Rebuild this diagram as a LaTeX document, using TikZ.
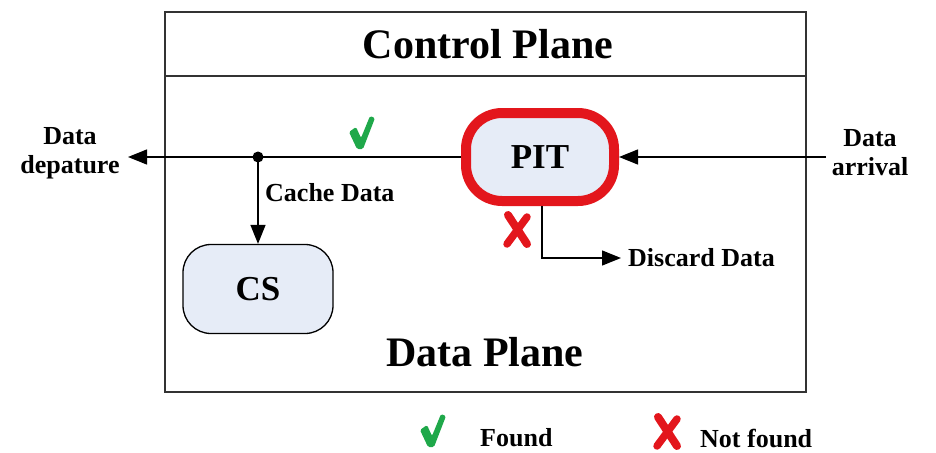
\documentclass[tikz,border=0pt]{standalone}
\usepackage{fontspec}
\setmainfont{Liberation Serif}
\usetikzlibrary{arrows.meta}
\definecolor{pitred}{HTML}{E3161C}
\definecolor{procfill}{HTML}{E6ECF7}
\definecolor{okgreen}{HTML}{1FA84A}
\begin{document}
\begin{tikzpicture}[x=1pt,y=-1pt,
  lbl/.style={font=\fontsize{26}{29}\selectfont\bfseries, inner sep=0pt},
  title/.style={font=\fontsize{42}{46}\selectfont\bfseries, inner sep=0pt},
  frame/.style={draw=black!80, line width=1.5pt},
  conn/.style={line width=1.3pt, -{Triangle[length=19pt,width=15pt]}},
  proc/.style={draw, fill=procfill, font=\fontsize{35}{38}\selectfont\bfseries},
  okmark/.pic={
    \fill[okgreen, rounded corners=1.5pt] (-13,-1) -- (-6,-6) -- (-1,5) -- (8,-17)
      -- (13,-15) -- (1,16) -- (-5,16) -- cycle;
  },
  nomark/.pic={
    \draw[pitred, line width=8pt, line cap=round] (-9,-15) -- (10,14);
    \draw[pitred, line width=7.5pt, line cap=round] (10,-13) -- (-10,14);
  }
]
\useasboundingbox (0,0) rectangle (936,452);

% planes
\draw[frame] (165,12) rectangle (806,392);
\draw[frame] (165,76) -- (806,76);
\node[title] (cp) at (488,44) {Control Plane};
\node[title] (dp) at (485,352) {Data Plane};

% tables
\node[proc, draw=pitred, line width=10pt, rounded corners=36pt,
      minimum width=148pt, minimum height=88pt] (pit) at (540,157) {PIT};
\node[proc, line width=1.3pt, rounded corners=28pt,
      minimum width=150pt, minimum height=89pt] (cs) at (258,289) {CS};

% data path
\node[circle, fill, inner sep=0pt, minimum size=11pt] (dot) at (258,157) {};
\coordinate (dep) at (128,157);
\coordinate (arr) at (826,157);
\coordinate (dis) at (621,258);
\draw[conn] (pit.west) -- (dep);
\draw[conn] (arr) -- (pit.east);
\draw[conn] (dot.center) -- (cs.north);
\draw[conn] ([xshift=2pt]pit.south) |- (dis);

% labels
\node[lbl, align=center] (depl) at (70,153) {Data\\depature};
\node[lbl, align=center] (arrl) at (870,153) {Data\\arrival};
\node[lbl, anchor=west] (cachel) at (265,193) {Cache Data};
\node[lbl, anchor=west] (discl) at (628,258) {Discard Data};

% lookup results
\pic at (362,133) {okmark};
\pic at (517,230) {nomark};

% legend
\pic at (433,431) {okmark};
\node[lbl, anchor=west] (foundl) at (480,438) {Found};
\pic at (667,432) {nomark};
\node[lbl, anchor=west] (notl) at (700,438) {Not found};
\end{tikzpicture}
\end{document}
